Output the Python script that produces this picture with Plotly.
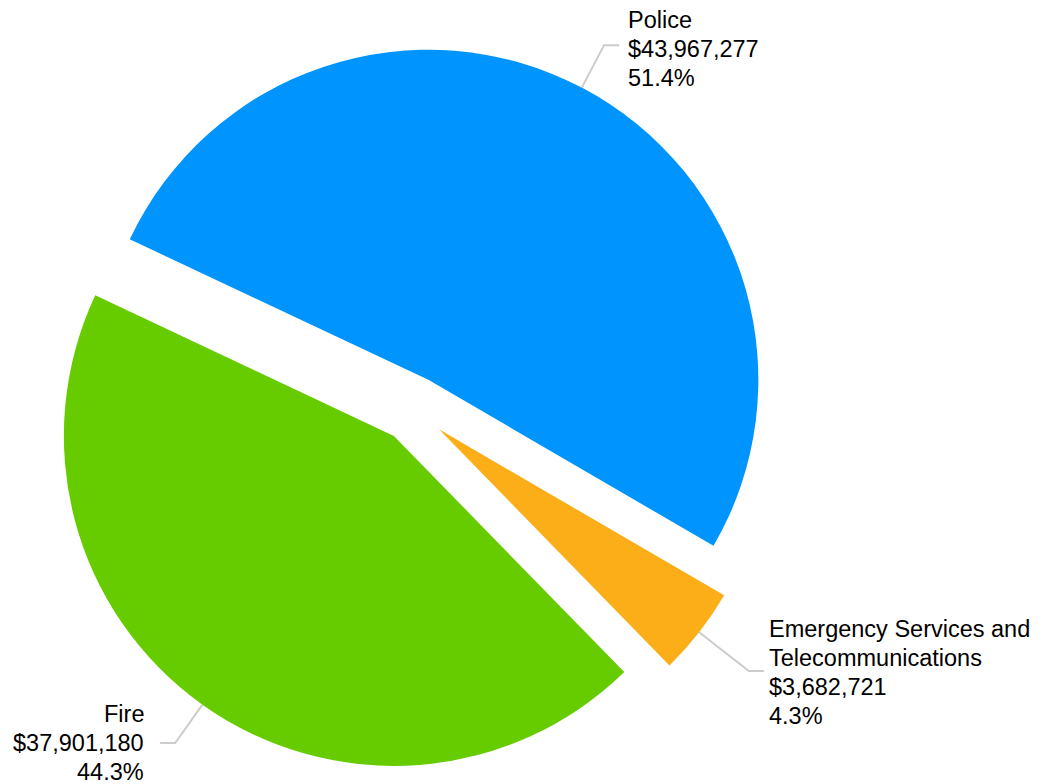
import math
import plotly.graph_objects as go

# ---- data ----
categories = ["Police", "Emergency Services and Telecommunications", "Fire"]
label_lines = [["Police"], ["Emergency Services and", "Telecommunications"], ["Fire"]]
values = [43967277, 3682721, 37901180]
colors = ["#0094FF", "#FBAE17", "#66CC00"]

# ---- layout / geometry parameters (page pixel coordinates) ----
PAGE_W, PAGE_H = 1052, 784
BODY = 8                   # default body margin of the html page
W, H = PAGE_W - BODY, PAGE_H - BODY
CX, CY = 413, 409          # pie centre (page pixels)
R = 330                    # radius in pixels
PULL = 0.1
ROT = -64.8                # start angle (clockwise from 12 o'clock)
EXT = [48, 63, 47]         # leader-line radial extension per slice
TEXT_DY = [4, 1, 0]        # small vertical nudge of each label block
TEXT_GAP = [7, 3, 14]      # gap between leader end and label
HSEG = 15                  # horizontal leader segment
LINE_H = 29                # label line spacing (px)
FONT = dict(family="Liberation Sans, Arial, sans-serif", size=23.5, color="#000000")

fx0, fy0 = CX - BODY, CY - BODY   # centre in figure pixels
half = R * (1 + PULL)
dom_x = [(fx0 - half) / W, (fx0 + half) / W]
dom_y = [1 - (fy0 + half) / H, 1 - (fy0 - half) / H]


def px(x):
    return (x - BODY) / W


def py(y):
    return 1 - (y - BODY) / H


fig = go.Figure(go.Pie(
    labels=categories,
    values=values,
    sort=False,
    direction="clockwise",
    rotation=ROT,
    pull=[PULL] * len(values),
    marker=dict(colors=colors, line=dict(width=0)),
    textinfo="none",
    hoverinfo="label+value+percent",
    domain=dict(x=dom_x, y=dom_y),
    showlegend=False,
))

total = sum(values)
cum = ROT
shapes = []
annotations = []
for i, v in enumerate(values):
    frac = v / total
    mid = math.radians(cum + frac * 180)
    cum += frac * 360
    dx, dy = math.sin(mid), -math.cos(mid)
    scx, scy = CX + PULL * R * dx, CY + PULL * R * dy
    ax, ay = scx + R * dx, scy + R * dy
    ex, ey = scx + (R + EXT[i]) * dx, scy + (R + EXT[i]) * dy
    side = 1 if dx >= 0 else -1
    hx = ex + side * HSEG
    shapes.append(dict(
        type="path", xref="paper", yref="paper",
        path=f"M {px(ax)} {py(ay)} L {px(ex)} {py(ey)} L {px(hx)} {py(ey)}",
        line=dict(color="#CCCCCC", width=2),
    ))
    lines = label_lines[i] + [f"${v:,}", f"{frac * 100:.1f}%"]
    n = len(lines)
    for j, t in enumerate(lines):
        yy = ey + TEXT_DY[i] + (j - (n - 1) / 2) * LINE_H
        annotations.append(dict(
            xref="paper", yref="paper",
            x=px(hx + side * TEXT_GAP[i]), y=py(yy),
            xanchor="left" if side > 0 else "right",
            yanchor="middle",
            align="left" if side > 0 else "right",
            showarrow=False,
            text=t,
            font=FONT,
        ))

fig.update_layout(
    width=W, height=H,
    margin=dict(l=0, r=0, t=0, b=0),
    paper_bgcolor="white",
    plot_bgcolor="white",
    shapes=shapes,
    annotations=annotations,
)

fig.write_html("out.html")
